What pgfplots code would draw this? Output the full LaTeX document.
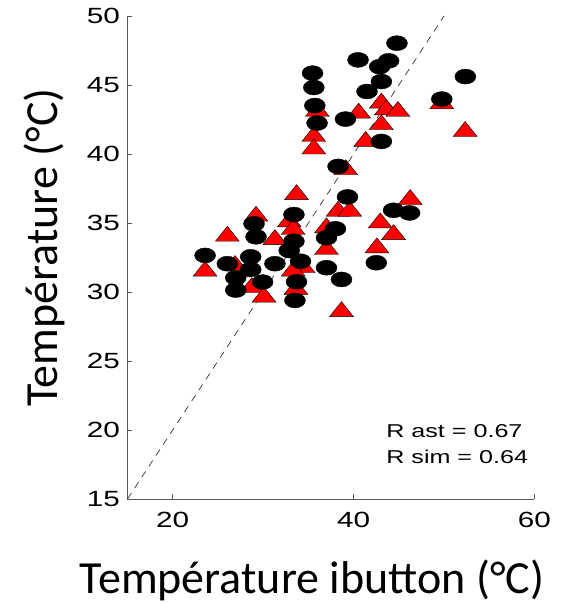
\documentclass[border=0pt]{standalone}
\usepackage{pgfplots}
\pgfplotsset{compat=1.18}
\usepackage{fontspec}
\setmainfont{Carlito}
\newfontfamily\tickfont[FakeStretch=1.35]{Liberation Sans}
\definecolor{axgray}{HTML}{5A5A5A}
\definecolor{mred}{HTML}{FF0000}
\begin{document}
\begin{tikzpicture}
\begin{axis}[
  scale only axis,
  width=407pt, height=483pt,
  xmin=15, xmax=60, ymin=15, ymax=50,
  axis lines*=left,
  axis line style={axgray, line width=0.8pt},
  xtick={20,40,60}, ytick={15,20,...,50},
  tick align=inside,
  major tick length=5pt,
  tick style={axgray, line width=0.8pt},
  /pgf/number format/assume math mode=true,
  ticklabel style={font=\tickfont\fontsize{22}{22}\selectfont, text=black},
  xticklabel style={yshift=-10pt},
  yticklabel style={xshift=-4pt},
  clip=false,
]
\addplot[black!80, dashed, line width=0.7pt, dash pattern=on 7pt off 6pt] coordinates {(15,15) (50,50)};
\addplot[only marks, mark=triangle*, mark size=10pt, mark options={xscale=1.38, fill=mred, draw=none}] coordinates {
(35.99,43.08) (40.56,42.96) (43.07,43.69) (43.62,43.20) (44.90,43.08) (49.75,43.64)
(43.07,42.12) (52.33,41.63) (35.60,41.27) (35.60,40.36) (41.33,40.91) (39.13,38.86)
(33.69,37.06) (46.26,36.70) (38.28,35.85) (39.57,35.85) (29.21,35.49) (32.88,35.08)
(42.95,35.01) (33.32,34.53) (37.00,34.65) (26.04,34.04) (31.30,33.80) (44.42,34.16)
(42.58,33.20) (37.00,33.08) (23.58,31.51) (26.89,31.92) (34.42,31.76) (33.32,31.51)
(28.73,30.31) (30.09,29.63) (33.62,30.19) (38.66,28.58)
};
\addplot[only marks, mark=*, mark size=7.5pt, mark options={xscale=1.4, fill=black, draw=none}] coordinates {
(44.79,48.03) (40.49,46.82) (43.87,46.75) (42.88,46.33) (35.46,45.86) (52.36,45.61)
(35.60,44.82) (43.07,45.25) (41.48,44.53) (49.75,43.98) (35.71,43.51) (39.10,42.53)
(35.96,42.24) (43.07,40.91) (38.28,39.10) (39.32,36.89) (44.42,35.92) (46.19,35.73)
(33.40,35.61) (28.99,34.94) (29.21,34.00) (37.99,34.58) (37.00,33.93) (33.40,33.68)
(32.88,33.01) (23.58,32.65) (28.62,32.55) (34.13,32.23) (26.04,32.05) (31.30,32.05)
(28.62,31.63) (26.97,31.03) (37.00,31.76) (42.51,32.12) (29.94,30.72) (33.69,30.74)
(38.66,30.91) (26.97,30.14) (33.51,29.39)
};
\node[anchor=base west, font=\tickfont\fontsize{18.6}{18.6}\selectfont, inner sep=0pt] at (axis cs:43.6,19.49) {R ast = 0.67};
\node[anchor=base west, font=\tickfont\fontsize{18.6}{18.6}\selectfont, inner sep=0pt] at (axis cs:43.6,17.6) {R sim = 0.64};
\end{axis}
\node[anchor=base, font=\fontsize{46}{46}\selectfont, inner sep=0pt] at (184.5pt,-94pt) {Température ibutton (°C)};
\node[anchor=base, rotate=90, font=\fontsize{46}{46}\selectfont, inner sep=0pt] at (-69.5pt,251.5pt) {Température (°C)};
\pgfresetboundingbox
\path (-127.5pt,-104pt) rectangle (438.5pt,499pt);
\end{tikzpicture}
\end{document}
